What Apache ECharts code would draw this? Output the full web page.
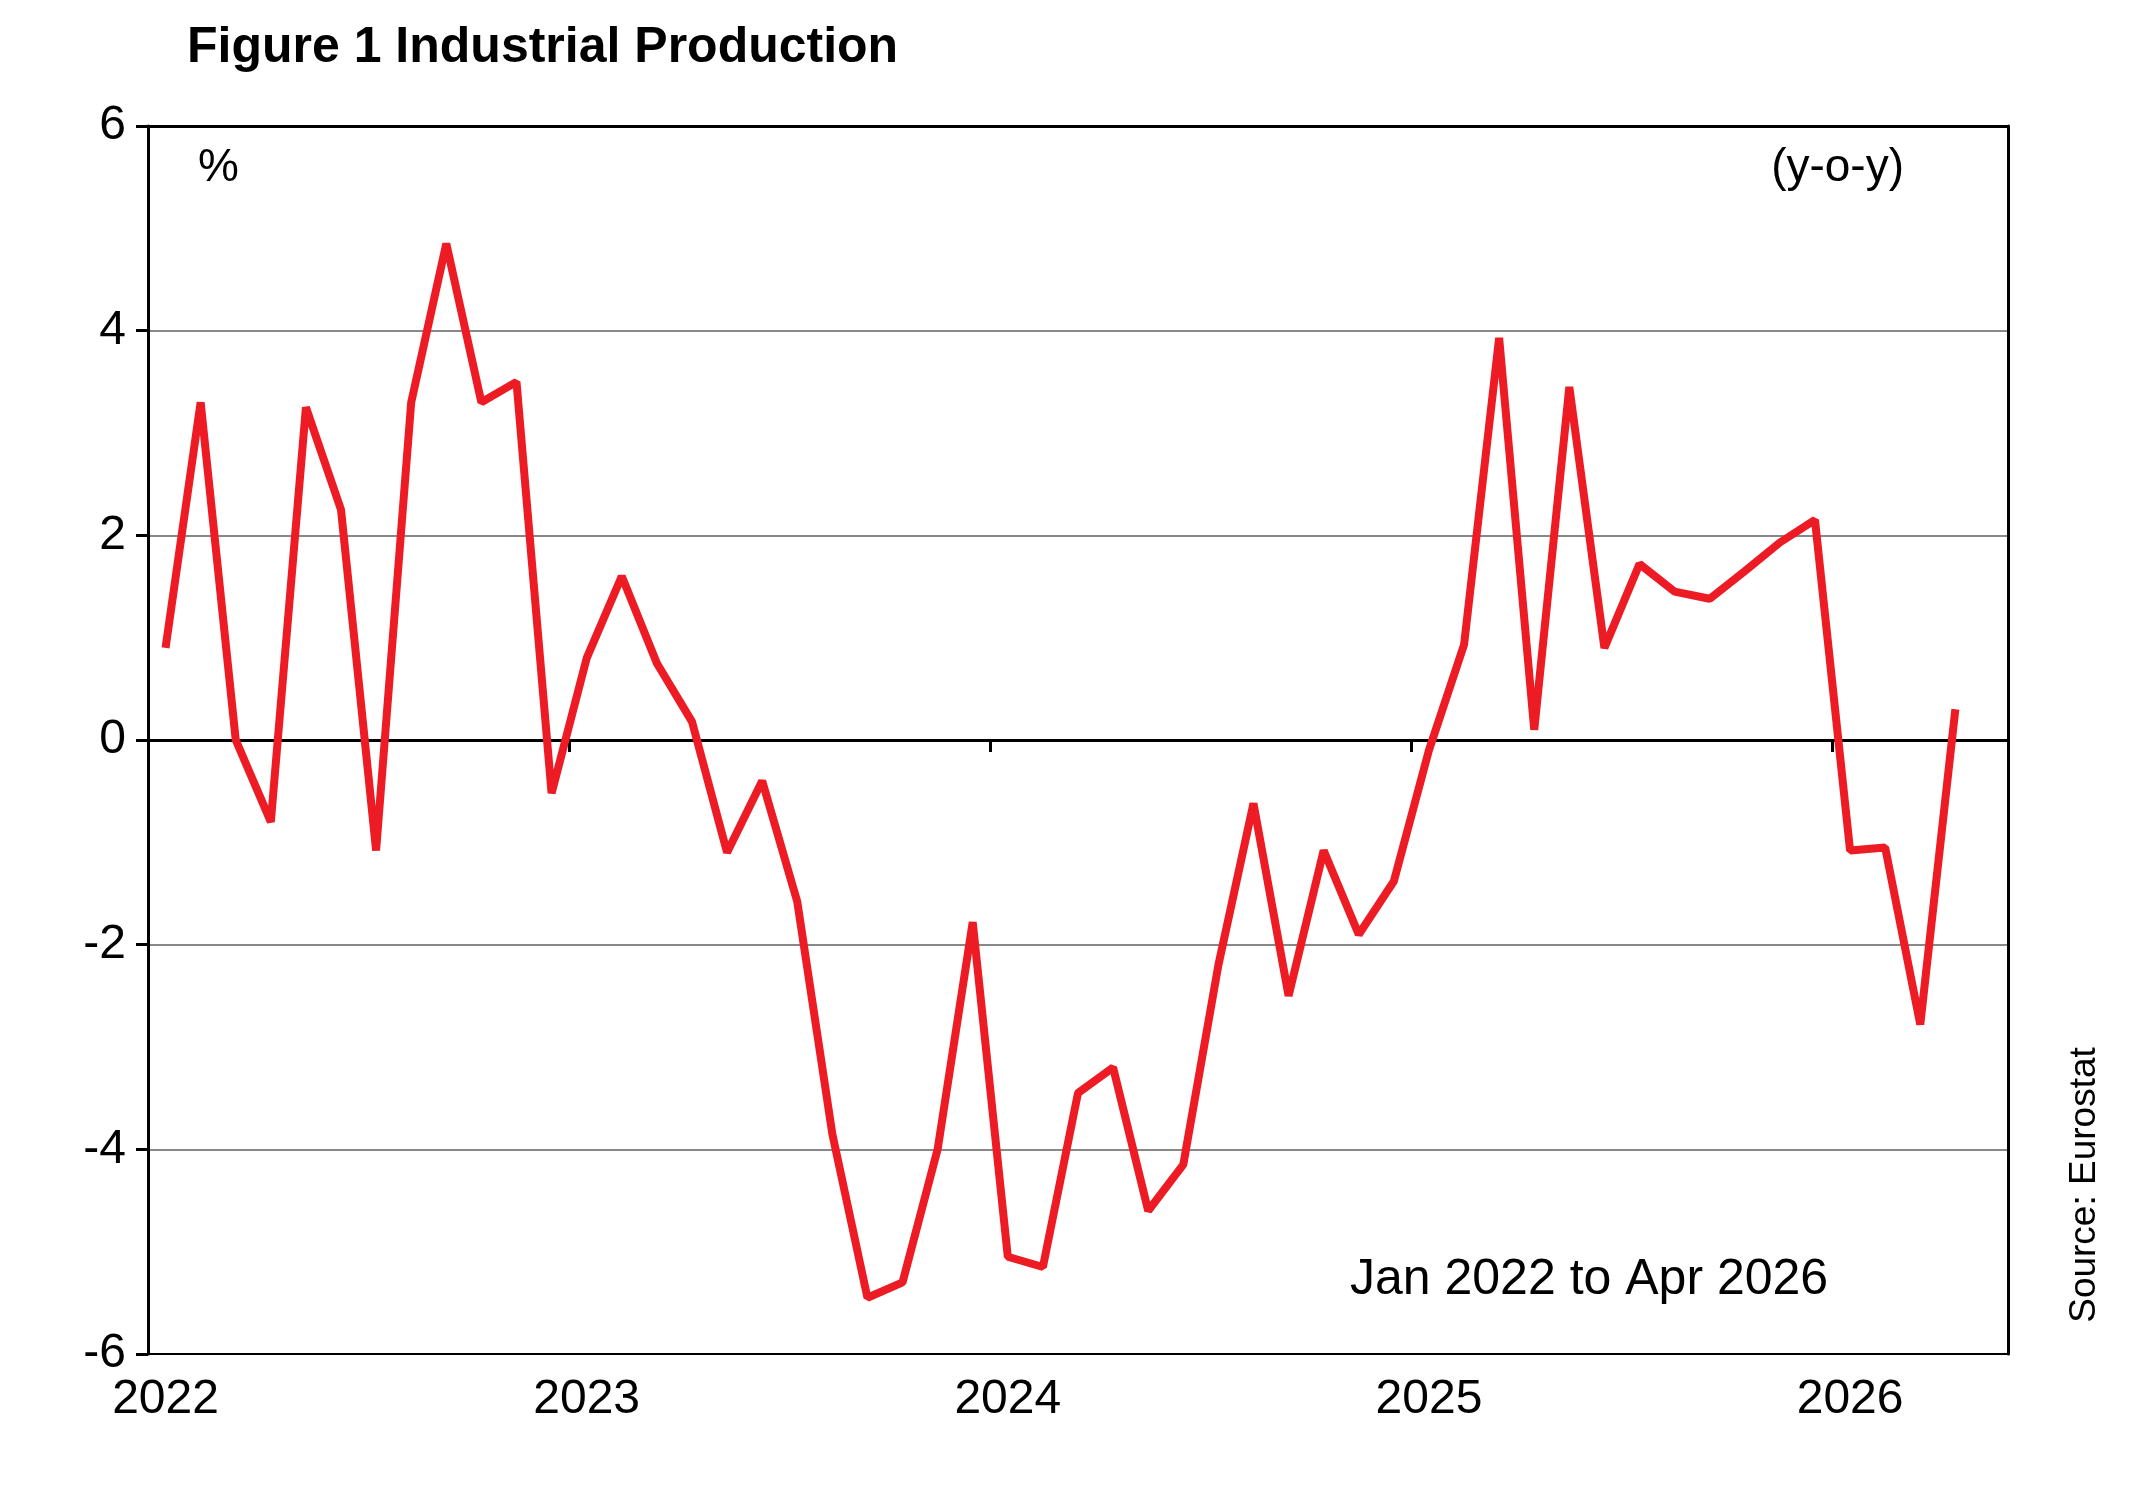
<!DOCTYPE html>
<html><head><meta charset="utf-8">
<script src="https://cdn.jsdelivr.net/npm/echarts@6/dist/echarts.min.js"></script>
<style>html,body{margin:0;padding:0;background:#fff}#c{width:2148px;height:1499px}</style>
</head><body><div id="c"></div>
<script>
const months = [];
for (let y = 2022; y <= 2026; y++) for (let m = 1; m <= 12; m++) { if (y === 2026 && m > 5) break; months.push(y + '-' + m); }
const values = [0.9,3.3,0.0,-0.8,3.25,2.25,-1.08,3.3,4.85,3.3,3.5,-0.52,
0.8,1.6,0.75,0.18,-1.1,-0.4,-1.58,-3.85,-5.45,-5.3,-4.0,-1.78,
-5.05,-5.15,-3.45,-3.2,-4.6,-4.15,-2.2,-0.62,-2.5,-1.08,-1.9,-1.38,
-0.1,0.93,3.93,0.1,3.45,0.9,1.72,1.45,1.38,1.65,1.93,2.15,
-1.08,-1.05,-2.78,0.3];
const yTicks = [-6,-4,-2,0,2,4,6];
const font = 'Liberation Sans, Arial, sans-serif';
const chart = echarts.init(document.getElementById('c'));
chart.setOption({
  animation:false,
  grid:{left:148,right:140,top:126,bottom:145,show:false},
  title:{text:'Figure 1 Industrial Production',left:182,top:18,textStyle:{fontFamily:font,fontSize:50,fontWeight:'bold',color:'#000'}},
  graphic:[
    {type:'text',left:198,top:145,style:{text:'%',font:'46px '+font,fill:'#000'}},
    {type:'text',right:244,top:145,style:{text:'(y-o-y)',font:'46px '+font,fill:'#000'}},
    {type:'text',left:1350,top:1255,style:{text:'Jan 2022 to Apr 2026',font:'50px '+font,fill:'#000'}},
    {type:'text',x:2085,y:1185,rotation:Math.PI/2,style:{text:'Source: Eurostat',font:'37px '+font,fill:'#000',align:'center',verticalAlign:'middle'}}
  ],
  xAxis:[
    {type:'category',data:months,boundaryGap:true,axisLine:{onZero:true,lineStyle:{color:'#000',width:3}},
     axisTick:{show:true,interval:(i)=>i%12===0,length:12,lineStyle:{color:'#000',width:3}},
     axisLabel:{show:false},splitLine:{show:false}},
    {type:'category',data:months,position:'bottom',boundaryGap:true,axisLine:{show:false},axisTick:{show:false},
     axisLabel:{interval:0,margin:22,fontFamily:font,fontSize:48,color:'#000',
       formatter:(v)=>{const p=v.split('-');return p[1]==='1'?p[0]:'';}}},
    {type:'category',data:months,position:'top',boundaryGap:true,axisLine:{show:true,lineStyle:{color:'#000',width:3}},axisTick:{show:false},axisLabel:{show:false}}
  ],
  yAxis:[{type:'value',min:-6,max:6,interval:2,axisLine:{show:true,lineStyle:{color:'#000',width:3}},
    axisTick:{show:true,length:12,lineStyle:{color:'#000',width:3}},
    axisLabel:{margin:22,fontFamily:font,fontSize:48,color:'#000',formatter:(v)=>yTicks.includes(v)?String(v):''},
    splitLine:{show:true,lineStyle:{color:['#000','#888','#888','#888','#888','#888','#000'],width:2}}},
    {type:'value',min:-6,max:6,interval:2,position:'right',axisLine:{show:true,lineStyle:{color:'#000',width:3}},axisTick:{show:false},axisLabel:{show:false},splitLine:{show:false}}],
  series:[{type:'line',data:values,xAxisIndex:0,yAxisIndex:0,symbol:'none',lineStyle:{color:'#ED1C24',width:8},z:5}]
});
</script></body></html>
